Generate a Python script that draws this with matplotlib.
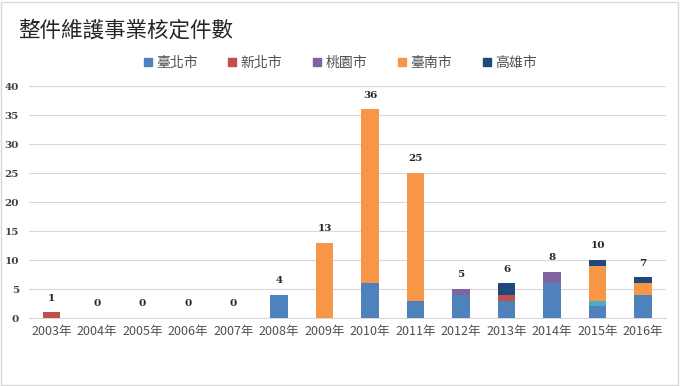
import matplotlib
matplotlib.use("Agg")
import matplotlib.pyplot as plt
from matplotlib.lines import Line2D
from matplotlib.patches import Rectangle
import numpy as np

plt.rcParams['font.family'] = ['Noto Sans CJK TC', 'DejaVu Sans']

years = ["2003年", "2004年", "2005年", "2006年", "2007年", "2008年", "2009年",
         "2010年", "2011年", "2012年", "2013年", "2014年", "2015年", "2016年"]
taipei    = [0, 0, 0, 0, 0, 4, 0, 6, 3, 4, 3, 6, 2, 4]
newtaipei = [1, 0, 0, 0, 0, 0, 0, 0, 0, 0, 1, 0, 0, 0]
taoyuan   = [0, 0, 0, 0, 0, 0, 0, 0, 0, 1, 0, 2, 0, 0]
other     = [0, 0, 0, 0, 0, 0, 0, 0, 0, 0, 0, 0, 1, 0]
tainan    = [0, 0, 0, 0, 0, 0, 13, 30, 22, 0, 0, 0, 6, 2]
kaohsiung = [0, 0, 0, 0, 0, 0, 0, 0, 0, 0, 2, 0, 1, 1]
totals    = [1, 0, 0, 0, 0, 4, 13, 36, 25, 5, 6, 8, 10, 7]

series = [
    ("臺北市", taipei, "#4F81BD", True),
    ("新北市", newtaipei, "#C0504D", True),
    ("桃園市", taoyuan, "#8064A2", True),
    ("其他", other, "#4BACC6", False),
    ("臺南市", tainan, "#F79646", True),
    ("高雄市", kaohsiung, "#1F497D", True),
]

fig = plt.figure(figsize=(6.8, 3.86), dpi=100)
fig.patches.append(Rectangle((0.002, 0.003), 0.995, 0.993, transform=fig.transFigure,
                             fill=False, edgecolor="#d9d9d9", linewidth=1.0))
ax = fig.add_axes([0.0422, 0.176, 0.937, 0.601])

x = np.arange(len(years))
bottom = np.zeros(len(years))
handles = []
for name, vals, color, inleg in series:
    v = np.array(vals, dtype=float)
    ax.bar(x, v, width=0.385, bottom=bottom, color=color, zorder=3)
    bottom += v
    if inleg:
        handles.append(Line2D([], [], marker='s', linestyle='none', markersize=6,
                              markerfacecolor=color, markeredgecolor=color, label=name))

for xi, t in zip(x, totals):
    ax.annotate(str(t), (xi, t), xytext=(0, 7), textcoords="offset points",
                ha="center", va="bottom", fontsize=7.5, color="#262626",
                family=["DejaVu Serif"], fontweight="bold")

ax.set_xlim(-0.5, len(years) - 0.5)
ax.set_ylim(0, 40)
ax.set_yticks(range(0, 41, 5))
ax.set_yticklabels([str(v) for v in range(0, 41, 5)], family=["DejaVu Serif"],
                   fontsize=7.5, color="#404040", fontweight="bold")
ax.set_xticks(x)
ax.set_xticklabels(years, fontsize=9, color="#505050")
ax.tick_params(axis="both", length=0)
ax.tick_params(axis="y", pad=7)
ax.tick_params(axis="x", pad=5)
ax.grid(axis="y", color="#d9d9d9", linewidth=0.8, zorder=0)
for s in ["top", "right", "left"]:
    ax.spines[s].set_visible(False)
ax.spines["bottom"].set_color("#d9d9d9")
ax.spines["bottom"].set_linewidth(0.8)

fig.text(0.026, 0.922, "整件維護事業核定件數", fontsize=15.5, color="#262626",
         ha="left", va="center")
fig.legend(handles=handles, loc="center", bbox_to_anchor=(0.497, 0.838), ncol=5,
           frameon=False, fontsize=10, handletextpad=0.0, columnspacing=1.9,
           labelcolor="#505050", handlelength=1.2)

fig.savefig("out.png", dpi=100)
